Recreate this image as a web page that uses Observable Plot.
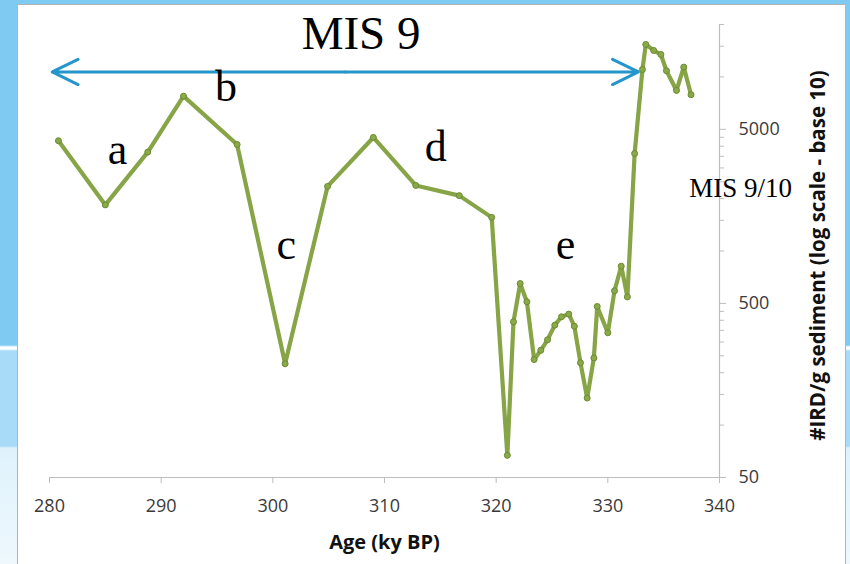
<!DOCTYPE html>
<html>
<head>
<meta charset="utf-8">
<script src="https://cdn.jsdelivr.net/npm/d3@7"></script>
<script src="https://cdn.jsdelivr.net/npm/@observablehq/plot@0.6"></script>
<style>
  body { margin: 0; }
  #wrap { position: relative; width: 850px; height: 564px; overflow: hidden;
    background: linear-gradient(to bottom, #7fcaf3 0px, #7fcaf3 345px, #ffffff 347px, #ffffff 349px, #a7dbf7 351px, #a7dbf7 446px, #dff2fc 448px, #eef8fd 564px); }
  #panel { position: absolute; left: 17px; top: 4px; width: 829px; height: 600px; background: #ffffff;
    border: 1px solid #b4b4b4; box-sizing: border-box; }
  #chart { position: absolute; left: 0; top: 0; }
</style>
</head>
<body>
<div id="wrap"><div id="panel"></div><div id="chart"></div></div>
<script>
// Age (ky BP)
const ages = [280.8, 285.0, 288.8, 292.0, 296.8, 301.1, 304.9, 309.0, 312.8, 316.7,
  319.6, 321.0, 321.55, 322.15, 322.75, 323.4, 324.0, 324.6, 325.25, 325.85,
  326.5, 327.0, 327.55, 328.15, 328.75, 329.05, 330.0, 330.6, 331.2, 331.75,
  332.4, 333.1, 333.4, 334.1, 334.75, 335.25, 336.15, 336.8, 337.45];
// #IRD per gram sediment
const ird = [4300, 1840, 3700, 7750, 4090, 225, 2350, 4490, 2380, 2080,
  1560, 67, 392, 650, 511, 238, 269, 309, 375, 419,
  434, 370, 228, 143, 243, 480, 339, 591, 818, 545,
  3630, 11030, 15360, 14190, 13450, 10850, 8360, 11380, 7900];

const xTicks = [280, 290, 300, 310, 320, 330, 340];
const yMajor = [50, 500, 5000];
const yMinor = [100, 150, 200, 250, 300, 350, 400, 450,
  1000, 1500, 2000, 2500, 3000, 3500, 4000, 4500, 10000, 15000, 20000];

const phaseLabels = ["a", "b", "c", "d", "e"];
const phaseAge = [286.1, 295.8, 301.2, 314.6, 326.2];
const phaseIRD = [3150, 7250, 905, 3310, 905];

const stageTitle = "MIS 9";
const stageTitleAge = 307.9;
const stageTitleIRD = 14560;
const boundaryLabel = "MIS 9/10";
const boundaryAge = 337.3;
const boundaryIRD = 2030;
const arrowEnds = [280.24, 332.74];
const arrowMid = 306.5;
const arrowIRD = 10680;

const xTitle = "Age (ky BP)";
const yTitle = "#IRD/g sediment (log scale - base 10)";

const rows = ages.map((age, i) => ({age, ird: ird[i]}));
const phases = phaseLabels.map((t, i) => ({t, age: phaseAge[i], ird: phaseIRD[i]}));
const arrows = arrowEnds.map(e => ({x1: arrowMid, x2: e, y: arrowIRD}));

const axisGray = "#bdbdbd";
const labelGray = "#3a3a3a";
const serif = "'Liberation Serif', 'Times New Roman', serif";

const chart = Plot.plot({
  width: 850,
  height: 564,
  marginLeft: 49,
  marginRight: 131,
  marginTop: 24,
  marginBottom: 87,
  style: {background: "transparent", fontFamily: "'Open Sans', sans-serif", fontSize: "18px", color: labelGray},
  x: {domain: [280, 340]},
  y: {type: "log", domain: [50, 20000]},
  marks: [
    Plot.ruleY([50], {stroke: axisGray, strokeWidth: 1.2}),
    Plot.ruleX([340], {stroke: axisGray, strokeWidth: 1.2}),
    Plot.axisX(xTicks, {anchor: "bottom", tickSize: 6, tickPadding: 16, stroke: axisGray, fill: labelGray, label: null, fontSize: 18}),
    Plot.axisY(yMinor, {anchor: "right", tickSize: 4, stroke: axisGray, tickFormat: () => "", label: null}),
    Plot.axisY(yMajor, {anchor: "right", tickSize: 6, tickPadding: 13, stroke: axisGray, fill: labelGray,
      tickFormat: d => String(d), label: null, fontSize: 18}),
    Plot.line(rows, {x: "age", y: "ird", stroke: "#87a447", strokeWidth: 4.2, strokeLinejoin: "round", strokeLinecap: "round"}),
    Plot.dot(rows, {x: "age", y: "ird", r: 3, fill: "#8aaa4a", stroke: "#6b8a31", strokeWidth: 1}),
    Plot.arrow(arrows, {x1: "x1", x2: "x2", y1: "y", y2: "y", stroke: "#2596cc", strokeWidth: 3,
      headLength: 14.4, headAngle: 52, bend: 0, insetStart: 0, insetEnd: 0}),
    Plot.text([stageTitle], {x: stageTitleAge, y: stageTitleIRD, fontFamily: serif, fontSize: 47,
      fill: "#000", lineAnchor: "bottom", textAnchor: "middle"}),
    Plot.text(phases, {x: "age", y: "ird", text: "t", fontFamily: serif, fontSize: 44,
      fill: "#000", lineAnchor: "bottom", textAnchor: "middle"}),
    Plot.text([boundaryLabel], {x: boundaryAge, y: boundaryIRD, fontFamily: serif, fontSize: 27,
      fill: "#000", lineAnchor: "bottom", textAnchor: "start"}),
    Plot.text([xTitle], {frameAnchor: "bottom", dy: 65.5, fontWeight: "bold", fontSize: 20,
      fill: "#111", lineAnchor: "middle", textAnchor: "middle"}),
    Plot.text([yTitle], {frameAnchor: "right", dx: 99, dy: 4.5, rotate: -90, fontWeight: "bold", fontSize: 20.5,
      fill: "#111", lineAnchor: "middle", textAnchor: "middle"})
  ]
});
document.getElementById("chart").appendChild(chart);
</script>
</body>
</html>
